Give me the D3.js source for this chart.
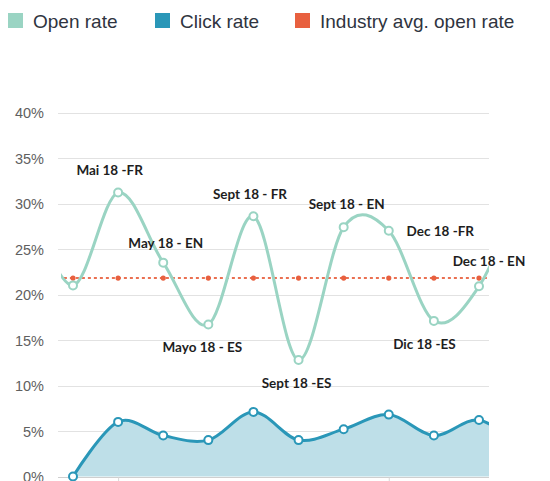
<!DOCTYPE html>
<html>
<head>
<meta charset="utf-8">
<script src="https://cdn.jsdelivr.net/npm/d3@7"></script>
<style>
  body { margin: 0; background: #fff; }
  #graphic { width: 550px; height: 481px; overflow: hidden; }
  .legend text { font-family: "Liberation Sans", Arial, sans-serif; font-size: 19px; fill: #2f3440; }
  .axis text { font-family: "Liberation Sans", Arial, sans-serif; font-size: 14.5px; fill: #5f5f5f; }
  .note { font-family: Lato, "Open Sans", sans-serif; font-size: 13.5px; font-weight: 700; fill: #1e1e1e; }
</style>
</head>
<body>
<div id="graphic"></div>
<script>
// campaign index runs from -1 to 10, the outer two sit outside the visible plot
const pointIndex = [-1, 0, 1, 2, 3, 4, 5, 6, 7, 8, 9, 10];
const openRate   = [30, 21.0, 31.2, 23.5, 16.7, 28.6, 12.8, 27.4, 27.0, 17.1, 20.9, 32];
const clickRate  = [null, 0, 6.0, 4.5, 4.0, 7.1, 4.0, 5.2, 6.8, 4.5, 6.2, 3.0];
const industryAvg = [null, 21.8, 21.8, 21.8, 21.8, 21.8, 21.8, 21.8, 21.8, 21.8, 21.8, null];

const yTicks = [0, 5, 10, 15, 20, 25, 30, 35, 40];
const xTicks = [1, 7];

const seriesNames = ["Open rate", "Click rate", "Industry avg. open rate"];
const seriesColors = ["#9ad4c3", "#2a97b8", "#e8603f"];

const noteText  = ["Mai 18 -FR", "May 18 - EN", "Mayo 18 - ES", "Sept 18 - FR", "Sept 18 -ES",
                   "Sept 18 - EN", "Dec 18 -FR", "Dic 18 -ES", "Dec 18 - EN"];
const notePoint = [1, 2, 3, 4, 5, 6, 7, 8, 9];

const chart = {
  el: "#graphic",
  plotLeft: 58,
  plotRight: 489,
  plotTop: 112.5,
  plotBottom: 476.5,
  createScales(){
    this.xScale = d3.scaleLinear()
      .domain([0, 9])
      .range([73, 479]);
    this.yScale = d3.scaleLinear()
      .domain([0, 40])
      .range([this.plotBottom, this.plotTop]);
  },
  drawPlot(){
    this.svg = d3.select(this.el).append("svg")
      .attr("width", 550)
      .attr("height", 481);
    this.svg.append("defs").append("clipPath")
      .attr("id", "plotClip")
      .append("rect")
      .attr("x", 61)
      .attr("y", 0)
      .attr("width", this.plotRight - 61)
      .attr("height", 481);
  },
  drawLegend(){
    const legendX = [8, 155, 295];
    const g = this.svg.append("g").attr("class", "legend");
    const item = g.selectAll("g").data(seriesNames).enter().append("g")
      .attr("transform", (d, i) => `translate(${legendX[i]}, 13)`);
    item.append("rect")
      .attr("width", 15).attr("height", 15)
      .attr("fill", (d, i) => seriesColors[i]);
    item.append("text")
      .attr("x", 25).attr("y", 14.5)
      .text(d => d);
  },
  drawAxes(){
    const that = this;
    const grid = this.svg.append("g").attr("class", "grid");
    grid.selectAll("line").data(yTicks).enter().append("line")
      .attr("x1", this.plotLeft).attr("x2", this.plotRight)
      .attr("y1", d => Math.round(that.yScale(d)) + 0.5)
      .attr("y2", d => Math.round(that.yScale(d)) + 0.5)
      .attr("stroke", d => d === 0 ? "#cfcfcf" : "#e2e2e2")
      .attr("stroke-width", 1);

    const yAxis = d3.axisLeft(this.yScale)
      .tickValues(yTicks)
      .tickSize(0)
      .tickPadding(0)
      .tickFormat(d => d + "%");
    this.svg.append("g")
      .attr("class", "axis yaxis")
      .attr("transform", "translate(44, 0)")
      .call(yAxis)
      .call(g => g.select(".domain").remove())
      .selectAll("text").attr("dy", "0.35em");

    const xAxis = d3.axisBottom(this.xScale)
      .tickValues(xTicks)
      .tickSize(6)
      .tickFormat("");
    this.svg.append("g")
      .attr("class", "axis xaxis")
      .attr("transform", `translate(0, ${Math.round(this.plotBottom) + 0.5})`)
      .call(xAxis)
      .call(g => g.select(".domain").remove())
      .selectAll("line").attr("stroke", "#d8d8d8");
  },
  drawData(){
    const that = this;
    const x = (d, i) => that.xScale(pointIndex[i]);
    const plot = this.svg.append("g").attr("clip-path", "url(#plotClip)");
    const curve = d3.curveCardinal.tension(0);

    // click rate area + line
    const area = d3.area()
      .defined(d => d !== null)
      .curve(curve)
      .x(x)
      .y0(this.yScale(0))
      .y1(d => that.yScale(d));
    plot.append("path")
      .datum(clickRate)
      .attr("d", area)
      .attr("fill", "#bedfe8");

    // industry average dotted line, stretched to the plot edges
    const flat = d3.line()
      .defined(d => d !== null)
      .x(x)
      .y(d => that.yScale(d));
    const avgLine = industryAvg.map(d => d);
    avgLine[0] = industryAvg[1];
    avgLine[avgLine.length - 1] = industryAvg[1];
    plot.append("path")
      .datum(avgLine)
      .attr("d", flat)
      .attr("fill", "none")
      .attr("stroke", seriesColors[2])
      .attr("stroke-width", 2)
      .attr("stroke-dasharray", "3,3")
      .attr("opacity", 0.9);
    plot.append("g").selectAll("circle")
      .data(industryAvg.map((d, i) => ({ v: d, i })).filter(d => d.v !== null))
      .enter().append("circle")
      .attr("cx", d => that.xScale(pointIndex[d.i]))
      .attr("cy", d => that.yScale(d.v))
      .attr("r", 2.6)
      .attr("fill", seriesColors[2]);

    const line = d3.line()
      .defined(d => d !== null)
      .curve(curve)
      .x(x)
      .y(d => that.yScale(d));

    plot.append("path")
      .datum(openRate)
      .attr("d", line)
      .attr("fill", "none")
      .attr("stroke", seriesColors[0])
      .attr("stroke-width", 3);

    plot.append("path")
      .datum(clickRate)
      .attr("d", line)
      .attr("fill", "none")
      .attr("stroke", seriesColors[1])
      .attr("stroke-width", 3);

    const markers = function(values, color){
      plot.append("g").selectAll("circle")
        .data(values.map((d, i) => ({ v: d, i })).filter(d => d.v !== null && pointIndex[d.i] >= 0 && pointIndex[d.i] <= 9))
        .enter().append("circle")
        .attr("cx", d => that.xScale(pointIndex[d.i]))
        .attr("cy", d => that.yScale(d.v))
        .attr("r", 4)
        .attr("fill", "#fff")
        .attr("stroke", color)
        .attr("stroke-width", 2);
    };
    markers(openRate, seriesColors[0]);
    markers(clickRate, seriesColors[1]);
  },
  drawNotes(){
    const that = this;
    // offset of each note from its point: [dx, dy]
    const noteOffset = [[-8.5, -22], [2.5, -19.5], [-6, 23], [-3.5, -22], [-2, 23],
                        [3, -23], [51.5, 0.7], [-9.5, 23], [10, -25]];
    this.svg.append("g").selectAll("text")
      .data(noteText).enter().append("text")
      .attr("class", "note")
      .attr("text-anchor", "middle")
      .attr("dy", "0.35em")
      .attr("x", (d, i) => that.xScale(notePoint[i]) + noteOffset[i][0])
      .attr("y", (d, i) => that.yScale(openRate[pointIndex.indexOf(notePoint[i])]) + noteOffset[i][1])
      .text(d => d);
  },
  draw(){
    this.createScales();
    this.drawPlot();
    this.drawLegend();
    this.drawAxes();
    this.drawData();
    this.drawNotes();
  }
};

chart.draw();
</script>
</body>
</html>
